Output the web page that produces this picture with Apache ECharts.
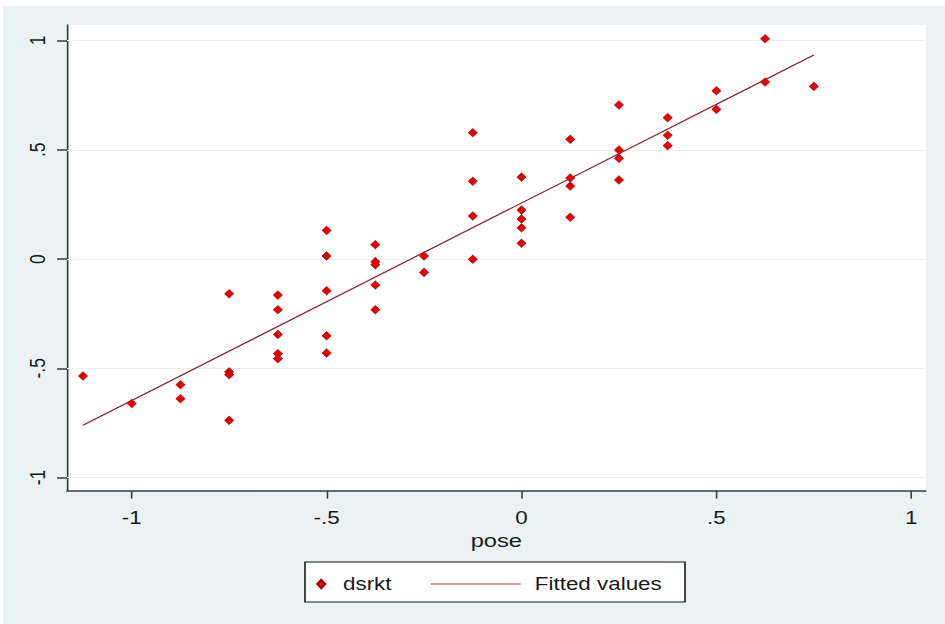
<!DOCTYPE html>
<html>
<head>
<meta charset="utf-8">
<script src="https://cdn.jsdelivr.net/npm/echarts@6/dist/echarts.min.js"></script>
<style>
html,body{margin:0;padding:0;background:#fff;width:945px;height:624px;overflow:hidden}
#wrap{position:absolute;left:3px;top:6px;width:942px;height:618px;background:#EAF2F3;overflow:hidden}
#chart{position:absolute;left:0;top:0;height:618px;transform-origin:0 0}
</style>
</head>
<body>
<div id="wrap"><div id="chart"></div></div>
<script>
// ---- data ----
const poseX = [
  -1.125,
  -1,
  -0.875, -0.875,
  -0.75, -0.75, -0.75, -0.75,
  -0.625, -0.625, -0.625, -0.625, -0.625,
  -0.5, -0.5, -0.5, -0.5, -0.5,
  -0.375, -0.375, -0.375, -0.375, -0.375,
  -0.25, -0.25,
  -0.125, -0.125, -0.125, -0.125,
  0, 0, 0, 0, 0,
  0.125, 0.125, 0.125, 0.125,
  0.25, 0.25, 0.25, 0.25,
  0.375, 0.375, 0.375,
  0.5, 0.5,
  0.625, 0.625,
  0.75
];
const dsrktY = [
  -0.535,
  -0.661,
  -0.575, -0.639,
  -0.159, -0.516, -0.529, -0.738,
  -0.165, -0.232, -0.345, -0.433, -0.456,
  0.131, 0.014, -0.145, -0.351, -0.430,
  0.066, -0.012, -0.026, -0.119, -0.232,
  0.014, -0.061,
  0.578, 0.356, 0.197, -0.001,
  0.375, 0.224, 0.183, 0.143, 0.072,
  0.548, 0.371, 0.334, 0.191,
  0.705, 0.499, 0.461, 0.362,
  0.647, 0.566, 0.519,
  0.770, 0.685,
  1.008, 0.810,
  0.790
];
const fitX = [-1.125, 0.75];
const fitY = [-0.760, 0.934];
const xTicks = [-1, -0.5, 0, 0.5, 1];
const yTicks = [-1, -0.5, 0, 0.5, 1];
const seriesNames = ['dsrkt', 'Fitted values'];
const xTitle = 'pose';

// ---- layout ----
const S = 1.28;               // horizontal stretch of the reference
const W = 942 / S;
const el = document.getElementById('chart');
el.style.width = W + 'px';
el.style.transform = 'scaleX(' + S + ')';
const px = v => (v - 3) / S;  // page x -> chart x

function fmt(v) {
  if (v === 0) return '0';
  if (Math.abs(v) === 1) return String(v);
  return String(v).replace('0.', '.');
}

const FONT = 'Liberation Sans, Arial, sans-serif';
const axisColor = '#3a3a3a';

const chart = echarts.init(el, null, { renderer: 'svg', width: W, height: 618 });

const scatterData = poseX.map((x, i) => [x, dsrktY[i]]);
const fitData = fitX.map((x, i) => [x, fitY[i]]);

chart.setOption({
  animation: false,
  backgroundColor: 'transparent',
  grid: {
    left: px(67), right: W - px(925.7), top: 19, bottom: 618 - 484.7,
    show: true, backgroundColor: '#ffffff', borderWidth: 0
  },
  xAxis: {
    type: 'value', min: -1.166, max: 1.037,
    name: xTitle, nameLocation: 'middle', nameGap: 38,
    nameTextStyle: { fontFamily: FONT, fontSize: 18.5, color: '#1a1a1a' },
    axisLine: { onZero: false, lineStyle: { color: axisColor, width: 1.6 } },
    axisTick: { show: true, customValues: xTicks, length: 8, lineStyle: { color: axisColor, width: 1.2 } },
    axisLabel: { customValues: xTicks, formatter: fmt, margin: 18, fontFamily: FONT, fontSize: 17.5, color: '#1a1a1a' },
    splitLine: { show: false }
  },
  yAxis: {
    type: 'value', min: -1.060, max: 1.071,
    axisLine: { show: true, onZero: false, lineStyle: { color: axisColor, width: 1.3 } },
    axisTick: { show: true, customValues: yTicks, length: 7.8, lineStyle: { color: axisColor, width: 1.5 } },
    axisLabel: { customValues: yTicks, formatter: fmt, rotate: 90, margin: 14, fontFamily: FONT, fontSize: 17.5, color: '#1a1a1a' },
    splitLine: { show: false }
  },
  graphic: [{
    type: 'rect', z: 1,
    shape: { x: px(305), y: 556, width: px(685) - px(305), height: 40 },
    style: { fill: '#ffffff', stroke: '#111', lineWidth: 1.2 }
  }],
  legend: [{
    data: [{ name: seriesNames[0], icon: 'diamond' }],
    left: px(320) - 3, top: 569, padding: 0,
    itemWidth: 6, itemHeight: 8, symbolKeepAspect: false,
    textStyle: { fontFamily: FONT, fontSize: 17.5, color: '#1a1a1a', padding: [0, 0, 0, 9] },
    z: 5
  }, {
    data: [seriesNames[1]],
    left: px(430), top: 569, padding: 0,
    itemWidth: px(520) - px(430), itemHeight: 10,
    itemStyle: { opacity: 0 },
    lineStyle: { color: '#A0303A', width: 1.2 },
    textStyle: { fontFamily: FONT, fontSize: 17.5, color: '#1a1a1a', padding: [0, 0, 0, 6] },
    z: 5
  }],
  series: [{
    name: seriesNames[0],
    type: 'scatter',
    data: scatterData,
    symbol: 'diamond',
    symbolSize: [7.2, 8.6],
    itemStyle: { color: '#E30000', borderColor: '#A80000', borderWidth: 0.6, opacity: 1 },
    markLine: {
      silent: true, symbol: ['none', 'none'], label: { show: false },
      lineStyle: { color: '#EBEFF0', width: 1, type: 'solid' },
      data: yTicks.map(v => ({ yAxis: v })),
      z: 1
    },
    z: 3
  }, {
    name: seriesNames[1],
    type: 'line',
    data: fitData,
    symbol: 'none',
    lineStyle: { color: '#8A2535', width: 1.2 },
    itemStyle: { color: '#8A2535' },
    z: 2
  }]
});
</script>
</body>
</html>
